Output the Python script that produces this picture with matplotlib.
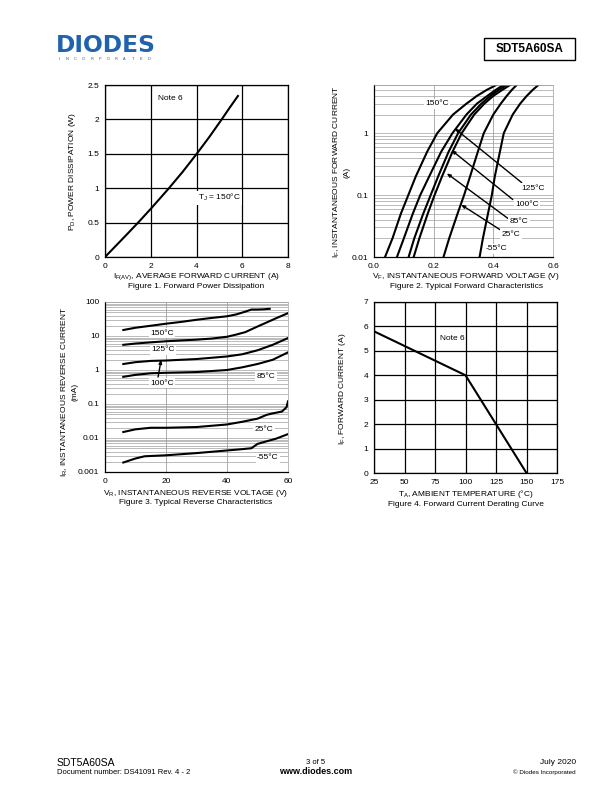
import numpy as np
import matplotlib
matplotlib.use("Agg")
import matplotlib.pyplot as plt
from matplotlib.patches import Rectangle
from matplotlib.ticker import FixedLocator, NullFormatter, LogLocator

plt.rcParams.update({
    "font.family": ["Liberation Sans", "DejaVu Sans"],
    "font.size": 6,
    "mathtext.default": "regular",
})

# ============================================================
# Data
# ============================================================
# Figure 1: forward power dissipation
f1_current = [0.0, 0.7, 1.42, 2.0, 2.77, 3.4, 4.01, 4.55, 5.08, 5.45, 5.81]
f1_power = [0.0, 0.24, 0.49, 0.70, 0.99, 1.24, 1.50, 1.74, 1.99, 2.17, 2.34]

# Figure 2: typical forward characteristics (V at each current level)
f2_current = [0.01, 0.02, 0.05, 0.1, 0.2, 0.5, 1, 2, 3, 4, 5, 6]
f2_v150 = [0.037, 0.062, 0.090, 0.115, 0.140, 0.178, 0.212, 0.265, 0.310, 0.345, 0.378, 0.410]
f2_v125 = [0.077, 0.100, 0.130, 0.155, 0.185, 0.225, 0.263, 0.310, 0.345, 0.380, 0.408, 0.433]
f2_v100 = [0.116, 0.135, 0.165, 0.190, 0.215, 0.250, 0.282, 0.325, 0.360, 0.390, 0.418, 0.444]
f2_v85 = [0.133, 0.152, 0.180, 0.203, 0.228, 0.263, 0.294, 0.336, 0.370, 0.400, 0.430, 0.456]
f2_v25 = [0.233, 0.252, 0.280, 0.302, 0.322, 0.348, 0.368, 0.400, 0.425, 0.445, 0.462, 0.478]
f2_vm55 = [0.354, 0.365, 0.382, 0.395, 0.405, 0.422, 0.435, 0.465, 0.490, 0.512, 0.532, 0.551]

# Figure 3: typical reverse characteristics (mA)
f3_v150 = [6, 10, 15, 20, 25, 30, 35, 40, 43, 46, 48, 50, 52, 54]
f3_i150 = [15, 17.5, 20, 23, 26, 30, 34, 38, 43, 52, 60, 60, 61, 63]
f3_v125 = [6, 10, 15, 20, 25, 30, 35, 40, 43, 46, 50, 53, 56, 60]
f3_i125 = [5.5, 6.0, 6.5, 7.0, 7.4, 7.8, 8.4, 9.5, 11, 13, 19, 25, 33, 47]
f3_v100 = [6, 10, 15, 20, 30, 40, 45, 50, 55, 60]
f3_i100 = [1.5, 1.7, 1.85, 1.9, 2.1, 2.5, 2.9, 3.8, 5.5, 8.7]
f3_v85 = [6, 10, 15, 20, 30, 40, 45, 50, 55, 60]
f3_i85 = [0.63, 0.72, 0.80, 0.83, 0.87, 1.0, 1.2, 1.5, 2.0, 3.3]
f3_v25 = [6, 10, 15, 20, 30, 40, 45, 50, 53, 55, 58, 59.5, 60]
f3_i25 = [0.015, 0.018, 0.020, 0.020, 0.021, 0.025, 0.030, 0.037, 0.048, 0.053, 0.060, 0.080, 0.120]
f3_vm55 = [6, 10, 13, 20, 30, 40, 45, 48, 50, 53, 56, 60]
f3_im55 = [0.0019, 0.0025, 0.0029, 0.0031, 0.0036, 0.0043, 0.0047, 0.0050, 0.0067, 0.0080, 0.0095, 0.0130]

# Figure 4: forward current derating
f4_temp = [25, 100, 150]
f4_current = [5.8, 4.0, 0.0]

W, H = 612, 792
fig = plt.figure(figsize=(W / 100, H / 100), dpi=100)


def px_axes(left, top, right, bottom):
    return fig.add_axes([left / W, 1 - bottom / H, (right - left) / W, (bottom - top) / H])


def ftext(x, y, s, **kw):
    kw.setdefault("ha", "center")
    kw.setdefault("va", "center")
    return fig.text(x / W, 1 - y / H, s, **kw)


def style_linear(ax):
    ax.grid(True, color="black", linewidth=0.9)
    ax.tick_params(length=0, pad=4, labelsize=6)
    for sp in ax.spines.values():
        sp.set_linewidth(0.9)


def style_log(ax, xmajor):
    ax.set_yscale("log")
    ax.yaxis.set_minor_locator(LogLocator(base=10, subs=np.arange(2, 10)))
    ax.yaxis.set_minor_formatter(NullFormatter())
    ax.set_xticks(xmajor)
    ax.grid(True, which="both", axis="y", color="#a0a0a0", linewidth=0.5)
    ax.grid(True, which="major", axis="x", color="#a0a0a0", linewidth=0.6)
    ax.tick_params(which="both", length=0, pad=4, labelsize=6)
    for side in ["top", "right"]:
        ax.spines[side].set_color("#a0a0a0")
        ax.spines[side].set_linewidth(0.5)
    for side in ["left", "bottom"]:
        ax.spines[side].set_linewidth(0.9)


white_box = dict(facecolor="white", edgecolor="none", pad=1.0)

# ============================================================
# Header
# ============================================================
ftext(56, 46, "DIODES", ha="left", fontsize=16.8, fontweight="bold",
      family="DejaVu Sans", color="#1f62ad")
for k, ch in enumerate("INCORPORATED"):
    ftext(59 + k * 8.2, 58.5, ch, fontsize=2.8, color="#34508a")
fig.patches.append(Rectangle((484 / W, 1 - 60 / H), 91 / W, 22 / H,
                             transform=fig.transFigure, facecolor="white",
                             edgecolor="black", linewidth=1.0))
ftext(529.5, 49, "SDT5A60SA", fontsize=8.5, fontweight="bold")

# ============================================================
# Figure 1
# ============================================================
ax1 = px_axes(105, 85, 288, 257)
ax1.plot(f1_current, f1_power, color="black", linewidth=1.5)
ax1.set_xlim(0, 8)
ax1.set_ylim(0, 2.5)
ax1.set_xticks([0, 2, 4, 6, 8])
ax1.set_yticks([0, 0.5, 1, 1.5, 2, 2.5])
ax1.set_yticklabels(["0", "0.5", "1", "1.5", "2", "2.5"])
style_linear(ax1)
ax1.text(2.85, 2.31, "Note 6", fontsize=6, ha="center", va="center")
ax1.text(4.05, 0.86, r"T$_J$ = 150°C", fontsize=6, ha="left", va="center",
         bbox=white_box)
ftext(73, 171, r"P$_D$, POWER DISSIPATION (W)", rotation=90)
ftext(196, 277, r"I$_{F(AV)}$, AVERAGE FORWARD CURRENT (A)")
ftext(196, 287, "Figure 1. Forward Power Dissipation")

# ============================================================
# Figure 2
# ============================================================
ax2 = px_axes(374, 85, 553, 257)
for v in [f2_v150, f2_v125, f2_v100, f2_v85, f2_v25, f2_vm55]:
    ax2.plot(v, f2_current, color="black", linewidth=1.5)
ax2.set_xlim(0, 0.6)
ax2.set_ylim(0.01, 6)
style_log(ax2, [0.0, 0.2, 0.4, 0.6])
ax2.set_xticklabels(["0.0", "0.2", "0.4", "0.6"])
ax2.yaxis.set_major_locator(FixedLocator([0.01, 0.1, 1]))
ax2.set_yticklabels(["0.01", "0.1", "1"])

arrow_kw = dict(arrowstyle="-|>,head_length=0.35,head_width=0.15", color="black",
                linewidth=1.0, shrinkA=0, shrinkB=0)
f2_notes = [
    ("125°C", (0.271, 1.19), (0.495, 0.159), (0.533, 0.13)),
    ("100°C", (0.260, 0.53), (0.465, 0.085), (0.513, 0.071)),
    ("85°C", (0.244, 0.224), (0.449, 0.042), (0.486, 0.0376)),
    ("25°C", (0.292, 0.070), (0.431, 0.026), (0.459, 0.0235)),
]
for label, tip, tail, pos in f2_notes:
    ax2.annotate("", xy=tip, xytext=tail, arrowprops=arrow_kw)
    ax2.text(pos[0], pos[1], label, fontsize=6, ha="center", va="center",
             bbox=white_box)
ax2.text(0.412, 0.0135, "-55°C", fontsize=6, ha="center", va="center", bbox=white_box)
ax2.text(0.211, 3.0, "150°C", fontsize=6, ha="center", va="center", bbox=white_box)
ftext(341, 172, "I$_F$, INSTANTANEOUS FORWARD CURRENT\n(A)", rotation=90,
      linespacing=1.3)
ftext(466, 277, r"V$_F$, INSTANTANEOUS FORWARD VOLTAGE (V)")
ftext(466, 287, "Figure 2. Typical Forward Characteristics")

# ============================================================
# Figure 3
# ============================================================
ax3 = px_axes(105, 302, 288, 472)
for v, i in [(f3_v150, f3_i150), (f3_v125, f3_i125), (f3_v100, f3_i100),
             (f3_v85, f3_i85), (f3_v25, f3_i25), (f3_vm55, f3_im55)]:
    ax3.plot(v, i, color="black", linewidth=1.5)
ax3.set_xlim(0, 60)
ax3.set_ylim(0.001, 100)
style_log(ax3, [0, 20, 40, 60])
ax3.yaxis.set_major_locator(FixedLocator([0.001, 0.01, 0.1, 1, 10, 100]))
ax3.set_yticklabels(["0.001", "0.01", "0.1", "1", "10", "100"])
ax3.text(18.7, 12.2, "150°C", fontsize=6, ha="center", va="center", bbox=white_box)
ax3.text(19.0, 3.9, "125°C", fontsize=6, ha="center", va="center", bbox=white_box)
ax3.annotate("", xy=(18.4, 2.0), xytext=(17.4, 0.62), arrowprops=arrow_kw)
ax3.text(18.7, 0.41, "100°C", fontsize=6, ha="center", va="center", bbox=white_box)
ax3.text(52.8, 0.63, "85°C", fontsize=6, ha="center", va="center", bbox=white_box)
ax3.text(52.1, 0.018, "25°C", fontsize=6, ha="center", va="center", bbox=white_box)
ax3.text(53.4, 0.0026, "-55°C", fontsize=6, ha="center", va="center", bbox=white_box)
ftext(69, 392, "I$_R$, INSTANTANEOUS REVERSE CURRENT\n(mA)", rotation=90,
      linespacing=1.3)
ftext(196, 493, r"V$_R$, INSTANTANEOUS REVERSE VOLTAGE (V)")
ftext(196, 503, "Figure 3. Typical Reverse Characteristics")

# ============================================================
# Figure 4
# ============================================================
ax4 = px_axes(374, 302, 557, 473)
ax4.plot(f4_temp, f4_current, color="black", linewidth=1.5)
ax4.set_xlim(25, 175)
ax4.set_ylim(0, 7)
ax4.set_xticks([25, 50, 75, 100, 125, 150, 175])
ax4.set_yticks(range(0, 8))
style_linear(ax4)
ax4.text(89, 5.49, "Note 6", fontsize=6, ha="center", va="center")
ftext(342, 389, r"I$_F$, FORWARD CURRENT (A)", rotation=90)
ftext(466, 494, r"T$_A$, AMBIENT TEMPERATURE (°C)")
ftext(466, 504, "Figure 4. Forward Current Derating Curve")

# ============================================================
# Footer
# ============================================================
ftext(57, 763, "SDT5A60SA", ha="left", fontsize=7.5)
ftext(57, 773, "Document number: DS41091 Rev. 4 - 2", ha="left", fontsize=5.5)
ftext(316, 763, "3 of 5", fontsize=5.5)
ftext(316, 772, "www.diodes.com", fontsize=6.5, fontweight="bold")
ftext(576, 763, "July 2020", ha="right", fontsize=6)
ftext(576, 772, "© Diodes Incorporated", ha="right", fontsize=4.5)

fig.savefig("out.png", dpi=100)
